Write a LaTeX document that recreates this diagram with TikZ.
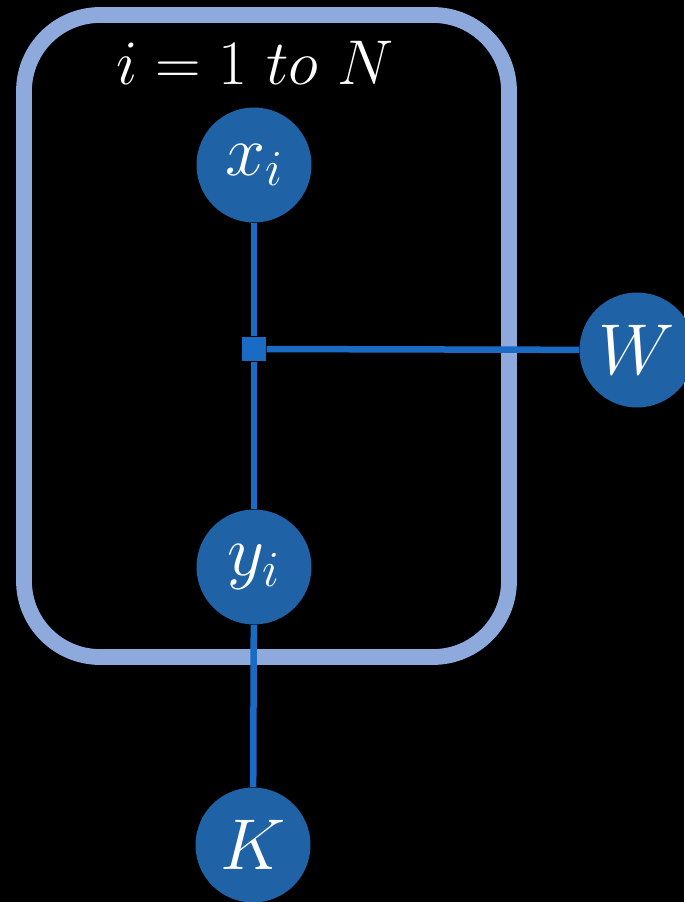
\RequirePackage{fix-cm}
\documentclass[tikz,border=0pt]{standalone}
\usepackage{amsmath,amssymb}
\usepackage{tikz}
\definecolor{platecol}{RGB}{142,169,219}
\definecolor{nodecol}{RGB}{31,99,166}
\definecolor{edgecol}{RGB}{26,107,196}
\begin{document}
\begin{tikzpicture}[x=0.02cm,y=-0.02cm]
	\tikzstyle{every node}+=[inner sep=0pt]
	\tikzstyle{var}=[circle,fill=nodecol,minimum size=2.3cm,text=white,font=\fontsize{41}{45}\selectfont]
	\tikzstyle{edge}=[edgecol,line width=3.7pt]
	\fill [black] (0,0) rectangle (684,902);
	\useasboundingbox (0,0) rectangle (684,902);
	% plate
	\draw [platecol,line width=9pt,rounded corners=1.52cm] (24,15) rectangle (509,657);
	\node [text=white,font=\fontsize{36}{40}\selectfont,anchor=base] (title) at (255,85) {$i = 1\ to\ N$};
	% variables
	\node [var] (x) at (254,165) {$x_i$};
	\node [var] (y) at (254,567) {$y_i$};
	\node [var] (K) at (253,845) {$K$};
	\node [var] (W) at (637,350) {$W$};
	\node [fill=edgecol,minimum size=0.49cm] (f) at (254,349) {};
	% edges
	\draw [edge] (x) -- (f);
	\draw [edge] (f) -- (y);
	\draw [edge] (f) -- (W);
	\draw [edge] (y) -- (K);
\end{tikzpicture}
\end{document}
